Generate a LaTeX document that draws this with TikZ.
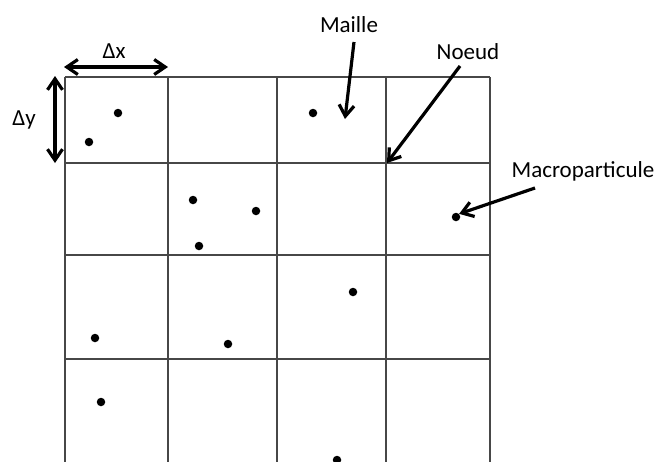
\documentclass[tikz,border=0pt]{standalone}
\usepackage{fontspec}
\setmainfont{Carlito}
\usetikzlibrary{arrows.meta}
\begin{document}
\begin{tikzpicture}[x=1pt,y=-1pt,
  gridline/.style={line width=1.8pt, draw=black!72},
  pointer/.style={line width=3.2pt, -{Straight Barb[length=11pt,width=15pt,line width=3.2pt]}},
  dimarrow/.style={line width=3.2pt, {Straight Barb[length=11pt,width=15pt,line width=3.2pt]}-{Straight Barb[length=11pt,width=15pt,line width=3.2pt]}},
  particle/.style={circle, fill=black, inner sep=0pt, minimum size=8.5pt},
  lbl/.style={font=\fontsize{23}{27}\selectfont, inner sep=1pt}]
\useasboundingbox (0,0) rectangle (659,461);
\clip (0,0) rectangle (659,461);
% grid
\foreach \x in {65,168,277,386,490} \draw[gridline] (\x,77) -- (\x,470);
\foreach \y in {77,163,255,359} \draw[gridline] (65,\y) -- (490,\y);
% grid node and cell point
\coordinate (noeud) at (387,163);
\coordinate (maillept) at (345,119);
% particles
\node[particle] (p1) at (118,113) {};
\node[particle] (p2) at (89,142) {};
\node[particle] (p3) at (313,113) {};
\node[particle] (p4) at (193,200) {};
\node[particle] (p5) at (256,211) {};
\node[particle] (p6) at (199,246) {};
\node[particle] (p7) at (456,217) {};
\node[particle] (p8) at (353,292) {};
\node[particle] (p9) at (95,338) {};
\node[particle] (p10) at (228,344) {};
\node[particle] (p11) at (101,402) {};
\node[particle] (p12) at (337,460) {};
% labels
\node[lbl] (dx) at (114,51) {Δx};
\node[lbl] (dy) at (24,120) {Δy};
\node[lbl] (maille) at (349,25) {Maille};
\node[lbl] (noeudl) at (468,52) {Noeud};
\node[lbl] (macro) at (583,171) {Macroparticule};
% dimension arrows
\coordinate (dxa) at (64,67);
\coordinate (dxb) at (168,67);
\coordinate (dya) at (55,76);
\coordinate (dyb) at (55,163);
\draw[dimarrow] (dxa) -- (dxb);
\draw[dimarrow] (dya) -- (dyb);
% pointers
\coordinate (ma) at (354,42);
\coordinate (na) at (460,66);
\coordinate (mpa) at (535,188);
\draw[pointer] (ma) -- (maillept);
\draw[pointer] (na) -- (noeud);
\draw[pointer] (mpa) -- (p7.north east);
\end{tikzpicture}
\end{document}
